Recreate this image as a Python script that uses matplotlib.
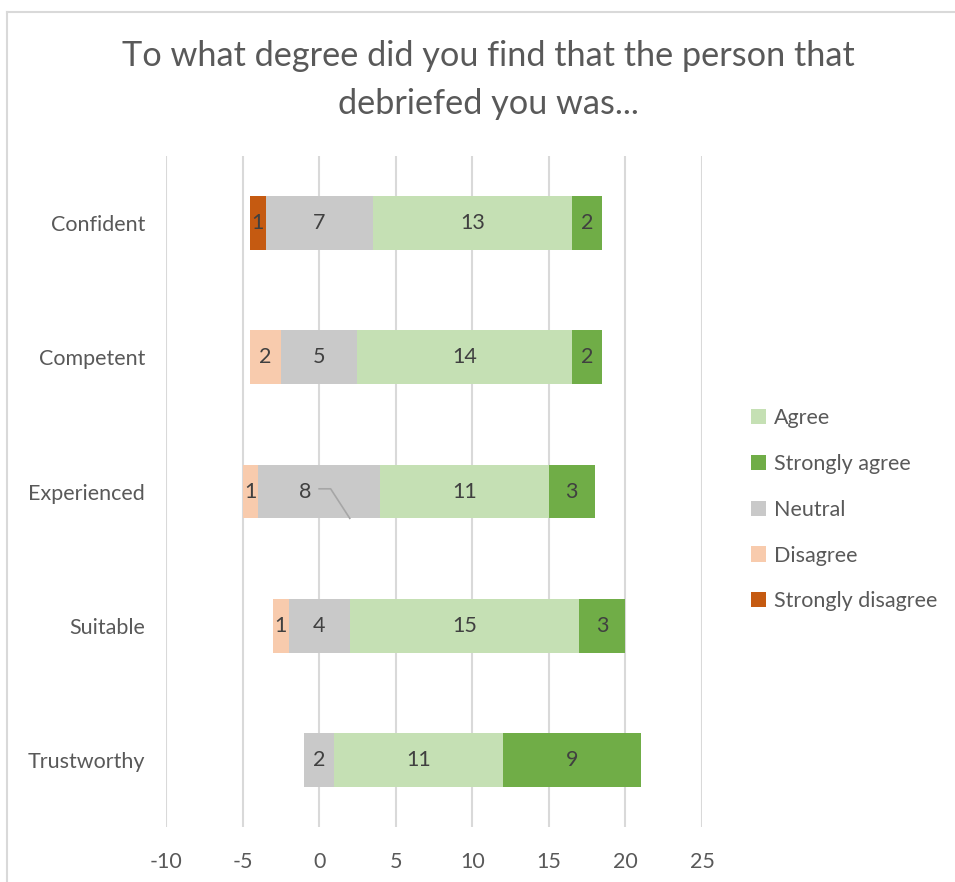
import matplotlib.pyplot as plt
from matplotlib.patches import Patch
from matplotlib.lines import Line2D

plt.rcParams['font.family'] = ['Lato', 'DejaVu Sans']
plt.rcParams['axes.unicode_minus'] = False

categories = ["Confident", "Competent", "Experienced", "Suitable", "Trustworthy"]
strongly_disagree = [1, 0, 0, 0, 0]
disagree = [0, 2, 1, 1, 0]
neutral = [7, 5, 8, 4, 2]
agree = [13, 14, 11, 15, 11]
strongly_agree = [2, 2, 3, 3, 9]

colors = {
    "Strongly disagree": "#C55A11",
    "Disagree": "#F8CBAD",
    "Neutral": "#C9C9C9",
    "Agree": "#C5E0B4",
    "Strongly agree": "#70AD47",
}
text_col = "#595959"

fig = plt.figure(figsize=(9.55, 8.82), dpi=100)
ax = fig.add_axes([166 / 955, 1 - 827 / 882, (702 - 166) / 955, (827 - 156) / 882])

y = list(range(len(categories)))
# invisible offset so that neutral is centred on zero
offset = [-(sd + d + n / 2) for sd, d, n in zip(strongly_disagree, disagree, neutral)]

series = [("Strongly disagree", strongly_disagree), ("Disagree", disagree),
          ("Neutral", neutral), ("Agree", agree), ("Strongly agree", strongly_agree)]

left = offset[:]
for name, vals in series:
    bars = ax.barh(y, vals, left=left, height=0.4, color=colors[name], zorder=2)
    for i, (b, v) in enumerate(zip(bars, vals)):
        if v == 0:
            continue
        cx = left[i] + v / 2
        if name == "Neutral" and categories[i] == "Experienced":
            cx = -0.9
        ax.text(cx, i, str(v), ha="center", va="center", fontsize=15.5, color="#404040", zorder=3)
    left = [l + v for l, v in zip(left, vals)]

# leader line left by a moved label
ex = categories.index("Experienced")
ax.plot([0.0, 0.75, 2.0], [ex - 0.02, ex - 0.02, ex + 0.2], color="#A6A6A6", lw=1.2, zorder=3)

ax.set_xlim(-10, 25)
ax.set_ylim(4.5, -0.5)
ax.set_xticks(range(-10, 26, 5))
ax.set_yticks(y)
ax.set_yticklabels(categories)
ax.grid(axis="x", color="#D9D9D9", lw=1.5, zorder=0)
ax.set_axisbelow(True)
for s in ax.spines.values():
    s.set_visible(False)
ax.tick_params(length=0, labelsize=15.5, colors=text_col)
ax.tick_params(axis="y", pad=15)
ax.tick_params(axis="x", pad=18)

fig.text(0.511, 1 - 80 / 882, "To what degree did you find that the person that\ndebriefed you was...",
         ha="center", va="center", fontsize=24.7, color=text_col, linespacing=1.6)

legend_order = ["Agree", "Strongly agree", "Neutral", "Disagree", "Strongly disagree"]
handles = [Patch(facecolor=colors[n], edgecolor="none") for n in legend_order]
fig.legend(handles, legend_order, loc="upper left", bbox_to_anchor=(751 / 955, 1 - 408 / 882),
           frameon=False, fontsize=15.5, labelcolor=text_col, handlelength=0.7, handleheight=0.7,
           handletextpad=0.35, labelspacing=1.2, borderaxespad=0, borderpad=0)

fig.add_artist(Line2D([7 / 955, 1], [1 - 12 / 882, 1 - 12 / 882], color="#D9D9D9", lw=1.5))
fig.add_artist(Line2D([7 / 955, 7 / 955], [0, 1 - 12 / 882], color="#D9D9D9", lw=1.5))

fig.savefig("out.png", dpi=100)
